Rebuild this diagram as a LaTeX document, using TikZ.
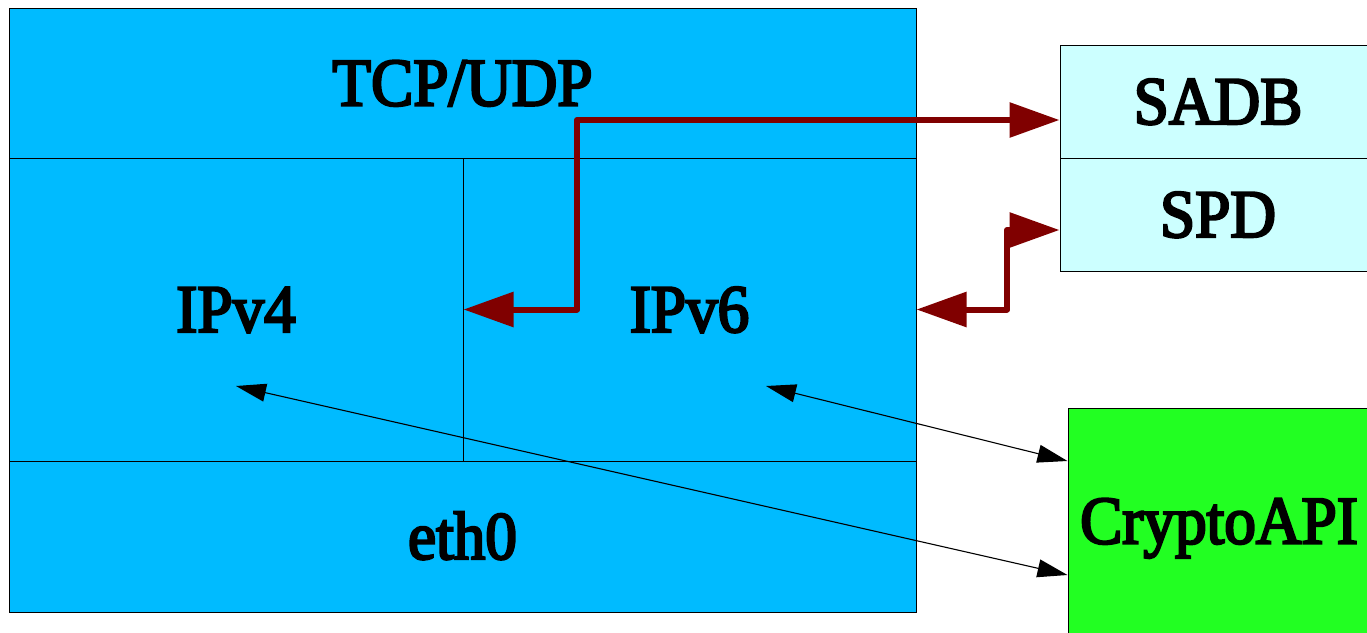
\documentclass[tikz,border=0pt]{standalone}
\usepackage{fontspec}
\setmainfont{Liberation Serif}[FakeStretch=0.93,FakeBold=3.5]
\usetikzlibrary{arrows.meta}
\definecolor{layerblue}{RGB}{0,187,255}
\definecolor{dbcyan}{RGB}{204,255,255}
\definecolor{cryptogreen}{RGB}{34,255,34}
\definecolor{arrowred}{RGB}{128,0,0}
\begin{document}
\begin{tikzpicture}[x=1pt,y=-1pt,
  box/.style={draw=black, line width=1pt, inner sep=0pt, text height=45pt, text depth=0pt,
    font=\fontsize{68}{80}\selectfont, anchor=center},
  bigarrow/.style={draw=arrowred, line width=6pt, line join=round,
    {Triangle[length=50pt,width=34pt]}-{Triangle[length=50pt,width=34pt]}},
  thinarrow/.style={draw=black, line width=1.1pt,
    {Triangle[length=30pt,width=18pt]}-{Triangle[length=30pt,width=18pt]}}]
\useasboundingbox (0,0) rectangle (1367,632);
\node[box, fill=layerblue, minimum width=907pt, minimum height=150pt] (tcp) at (462.5,83) {TCP/UDP};
\node[box, fill=layerblue, minimum width=454pt, minimum height=303pt] (ipv4) at (236,309.5) {IPv4};
\node[box, fill=layerblue, minimum width=453pt, minimum height=303pt] (ipv6) at (689.5,309.5) {IPv6};
\node[box, fill=layerblue, minimum width=907pt, minimum height=151pt] (eth) at (462.5,536.5) {eth0};
\node[box, fill=dbcyan, minimum width=316pt, minimum height=113pt] (sadb) at (1218,101.5) {SADB};
\node[box, fill=dbcyan, minimum width=316pt, minimum height=113pt] (spd) at (1218,214.5) {SPD};
\node[box, fill=cryptogreen, minimum width=302pt, minimum height=226pt] (crypto) at (1219,521) {CryptoAPI};
\draw[thinarrow] ([yshift=-76.5pt]ipv4.center) -- ([yshift=-54pt]crypto.west);
\draw[thinarrow] ([xshift=76.5pt,yshift=-76.5pt]ipv6.center) -- ([yshift=60pt]crypto.west);
\coordinate (bendA) at (577,120);
\coordinate (bendB) at (1007,230);
\draw[bigarrow] (ipv4.east) -| (bendA) -- ([yshift=-18.5pt]sadb.west);
\draw[bigarrow] (ipv6.east) -| (bendB) -- ([yshift=-15.5pt]spd.west);
\end{tikzpicture}
\end{document}
